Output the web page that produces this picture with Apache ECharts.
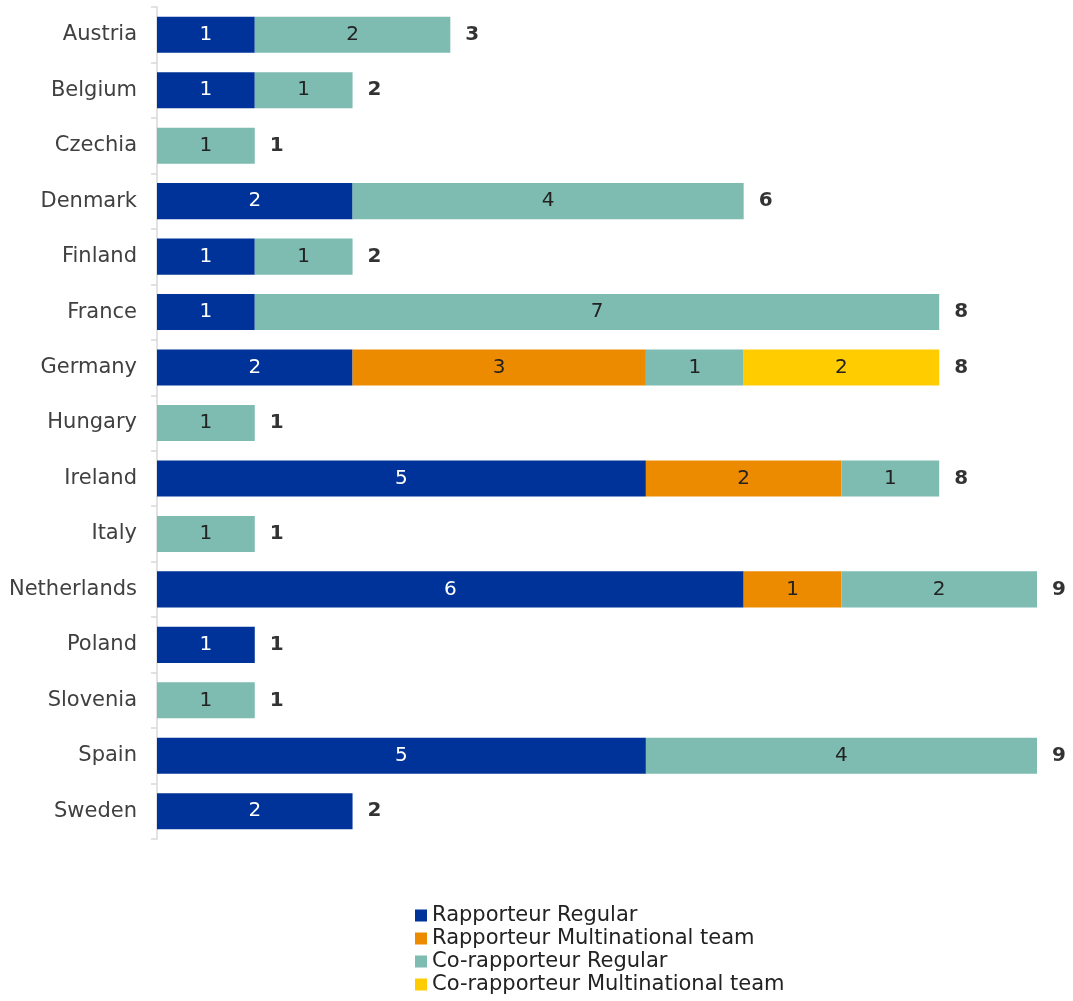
<!DOCTYPE html>
<html>
<head>
<meta charset="utf-8">
<script src="https://cdn.jsdelivr.net/npm/echarts@6/dist/echarts.min.js"></script>
<style>
html,body{margin:0;padding:0;background:#fff;}
#main{width:1073px;height:1001px;}
</style>
</head>
<body>
<div id="main"></div>
<script>
const categories = ['Austria','Belgium','Czechia','Denmark','Finland','France','Germany','Hungary','Ireland','Italy','Netherlands','Poland','Slovenia','Spain','Sweden'];
const rapporteurRegular =        [1, 1, null, 2, 1, 1, 2, null, 5, null, 6, 1, null, 5, 2];
const rapporteurMultinational =  [null, null, null, null, null, null, 3, null, 2, null, 1, null, null, null, null];
const coRapporteurRegular =      [2, 1, 1, 4, 1, 7, 1, 1, 1, 1, 2, null, 1, 4, null];
const coRapporteurMultinational =[null, null, null, null, null, null, 2, null, null, null, null, null, null, null, null];
const seriesNames = ['Rapporteur Regular','Rapporteur Multinational team','Co-rapporteur Regular','Co-rapporteur Multinational team'];

const totals = categories.map((c, i) =>
  [rapporteurRegular, rapporteurMultinational, coRapporteurRegular, coRapporteurMultinational]
    .reduce((s, arr) => s + (arr[i] || 0), 0));

const FONT = 'DejaVu Sans';
const colors = ['#003399', '#ED8B00', '#7EBBB1', '#FFCC00'];
const labelColors = ['#ffffff', '#222222', '#222222', '#222222'];
const allData = [rapporteurRegular, rapporteurMultinational, coRapporteurRegular, coRapporteurMultinational];

const barSeries = allData.map((arr, k) => ({
  name: seriesNames[k],
  type: 'bar',
  stack: 'total',
  barCategoryGap: '35%',
  data: arr,
  itemStyle: { color: colors[k] },
  label: {
    show: true,
    position: 'inside',
    color: labelColors[k],
    fontFamily: FONT,
    fontSize: 20,
    formatter: p => (p.value == null ? '' : p.value)
  },
  emphasis: { disabled: true }
}));

const chart = echarts.init(document.getElementById('main'), null, { renderer: 'canvas' });
chart.setOption({
  animation: false,
  grid: { left: 157, right: 36, top: 7, bottom: 162, containLabel: false },
  xAxis: {
    type: 'value', min: 0, max: 9, show: false
  },
  yAxis: {
    type: 'category',
    data: categories,
    inverse: true,
    axisLine: { show: true, lineStyle: { color: '#d9d9d9', width: 1.5 } },
    axisTick: { show: true, length: 6, lineStyle: { color: '#d9d9d9', width: 1.5 } },
    axisLabel: { color: '#404040', fontFamily: FONT, fontSize: 21, margin: 20 }
  },
  legend: {
    orient: 'vertical',
    left: 410, top: 900,
    itemWidth: 12, itemHeight: 12,
    itemGap: 2,
    icon: 'rect',
    data: seriesNames,
    textStyle: { fontFamily: FONT, fontSize: 21, color: '#222' }
  },
  series: barSeries.concat([{
    name: 'Total',
    type: 'scatter',
    data: totals.map((t, i) => [t, categories[i]]),
    symbolSize: 0,
    label: {
      show: true, position: 'right', distance: 15,
      formatter: p => totals[p.dataIndex],
      fontFamily: FONT, fontSize: 20, fontWeight: 'bold', color: '#000'
    },
    emphasis: { disabled: true }
  }])
});
</script>
</body>
</html>
